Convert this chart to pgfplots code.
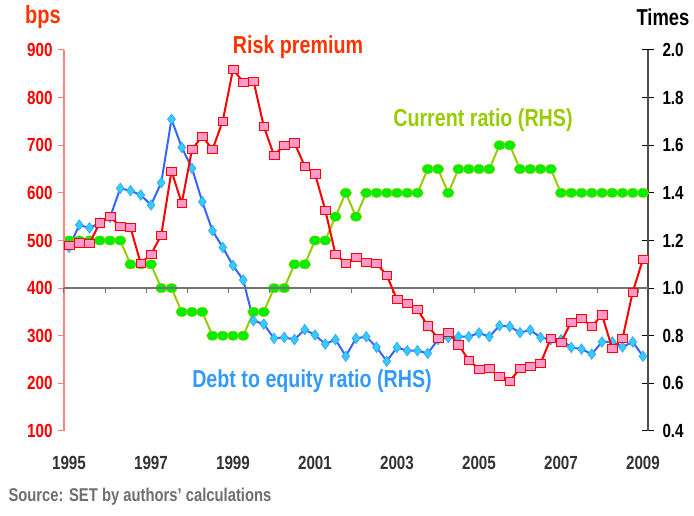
\documentclass[border=0pt]{standalone}
\usepackage{fontspec}
\setmainfont{Liberation Sans}[FakeStretch=0.8]
\usepackage{pgfplots}
\pgfplotsset{compat=1.18}
\usepackage{pgfplotstable}

\definecolor{rpline}{RGB}{255,0,0}
\definecolor{rpfill}{RGB}{255,153,204}
\definecolor{rptext}{RGB}{255,51,0}
\definecolor{deline}{RGB}{51,102,255}
\definecolor{defill}{RGB}{51,204,255}
\definecolor{detext}{RGB}{51,153,255}
\definecolor{crline}{RGB}{153,204,0}
\definecolor{crfill}{RGB}{0,238,0}
\definecolor{leftaxis}{RGB}{255,128,128}
\definecolor{srcgray}{RGB}{110,110,110}

% quarterly: risk premium (bps), debt to equity (times), current ratio (times)
\pgfplotstableread{
t       rp   de     cr
1995.00 490  1.171  1.2
1995.25 495  1.265  1.2
1995.50 494  1.253  1.2
1995.75 537  1.274  1.2
1996.00 550  1.297  1.2
1996.25 529  1.419  1.2
1996.50 527  1.409  1.1
1996.75 452  1.391  1.1
1997.00 471  1.349  1.1
1997.25 511  1.443  1.0
1997.50 646  1.709  1.0
1997.75 578  1.591  0.9
1998.00 691  1.503  0.9
1998.25 719  1.363  0.9
1998.50 691  1.241  0.8
1998.75 751  1.171  0.8
1999.00 859  1.095  0.8
1999.25 833  1.034  0.8
1999.50 835  0.863  0.9
1999.75 740  0.849  0.9
2000.00 679  0.789  1.0
2000.25 700  0.793  1.0
2000.50 705  0.784  1.1
2000.75 656  0.826  1.1
2001.00 640  0.803  1.2
2001.25 564  0.765  1.2
2001.50 471  0.784  1.3
2001.75 452  0.714  1.4
2002.00 465  0.789  1.3
2002.25 455  0.796  1.4
2002.50 452  0.752  1.4
2002.75 427  0.693  1.4
2003.00 376  0.751  1.4
2003.25 369  0.737  1.4
2003.50 355  0.737  1.4
2003.75 321  0.726  1.5
2004.00 295  0.784  1.5
2004.25 308  0.793  1.4
2004.50 281  0.796  1.5
2004.75 249  0.796  1.5
2005.00 230  0.812  1.5
2005.25 231  0.796  1.5
2005.50 214  0.842  1.6
2005.75 205  0.839  1.6
2006.00 231  0.813  1.5
2006.25 235  0.824  1.5
2006.50 242  0.793  1.5
2006.75 294  0.784  1.5
2007.00 286  0.784  1.4
2007.25 329  0.751  1.4
2007.50 337  0.744  1.4
2007.75 319  0.723  1.4
2008.00 344  0.774  1.4
2008.25 273  0.774  1.4
2008.50 294  0.753  1.4
2008.75 392  0.774  1.4
2009.00 461  0.714  1.4
}\data

\pgfplotsset{
  base/.style={
    scale only axis, width=584pt, height=381pt,
    at={(64pt,85pt)}, anchor=south west,
    xmin=1994.878, xmax=2009.122,
    clip=false,
    /pgf/number format/assume math mode=true,
    /pgf/number format/1000 sep={},
    tick label style={font=\fontsize{19}{21}\selectfont\bfseries},
  },
}

\begin{document}
\begin{tikzpicture}
\path[use as bounding box] (0pt,0pt) rectangle (694pt,516pt);

% right axis: times
\begin{axis}[base,
  axis y line*=right, axis x line=none,
  ymin=0.4, ymax=2.0,
  ytick={0.4,0.6,0.8,1.0,1.2,1.4,1.6,1.8,2.0},
  yticklabel style={xshift=5pt, /pgf/number format/fixed,
    /pgf/number format/fixed zerofill, /pgf/number format/precision=1},
  tick align=center, major tick length=12pt,
  y axis line style={draw=black!70, line width=1.2pt},
  ytick style={draw=black, line width=1pt},
]
\addplot[color=crline, line width=2pt, mark=*, mark size=4.6pt,
  mark options={xscale=1.25, fill=crfill, draw=crline, line width=0.5pt}]
  table[x=t, y=cr]{\data};
\addplot[color=deline, line width=2pt, mark=diamond*, mark size=5.3pt,
  mark options={fill=defill, draw=detext, line width=0.5pt}]
  table[x=t, y=de]{\data};
\end{axis}

% left axis: bps
\begin{axis}[base,
  axis y line*=left, axis x line*=bottom,
  x axis line style={draw=none}, xtick style={draw=none},
  xtick={1995,1997,...,2009},
  xticklabel style={text=black!80, yshift=-16pt},
  ymin=100, ymax=900,
  ytick={100,200,...,900},
  yticklabel style={text=rpline, xshift=-2pt},
  tick align=outside, major tick length=6pt,
  y axis line style={draw=leftaxis, line width=1.5pt},
  ytick style={draw=leftaxis, line width=1pt},
]
\draw[black!55, line width=1.5pt] (axis cs:1994.878,400) -- (axis cs:2009.122,400);
\pgfplotsinvokeforeach{1994.878,1995.878,1996.878,1997.878,1998.878,1999.878,2000.878,2001.878,2002.878,2003.878,2004.878,2005.878,2006.878,2007.878,2008.878}{
  \draw[black!55, line width=1pt] (axis cs:#1,400) -- ++(0pt,-5pt);
}
\addplot[color=rpline, line width=2pt, mark=square*, mark size=4.8pt,
  mark options={yscale=0.85, fill=rpfill, draw=rpline, line width=0.6pt}]
  table[x=t, y=rp]{\data};
\end{axis}

\node[text=rptext, font=\fontsize{25}{28}\selectfont\bfseries] at (43pt,499pt) {bps};
\node[text=black, font=\fontsize{23}{26}\selectfont\bfseries] at (663pt,499pt) {Times};
\node[text=rptext, font=\fontsize{24.6}{28}\selectfont\bfseries] at (298pt,469pt) {Risk premium};
\node[text=crline, font=\fontsize{24.6}{28}\selectfont\bfseries] at (483pt,396pt) {Current ratio (RHS)};
\node[text=detext, font=\fontsize{24.6}{28}\selectfont\bfseries] at (312pt,135pt) {Debt to equity ratio (RHS)};
\node[text=srcgray, anchor=west, font=\fontsize{18.5}{21}\selectfont\bfseries] at (5pt,19pt) {Source: SET by authors' calculations};
\end{tikzpicture}
\end{document}
